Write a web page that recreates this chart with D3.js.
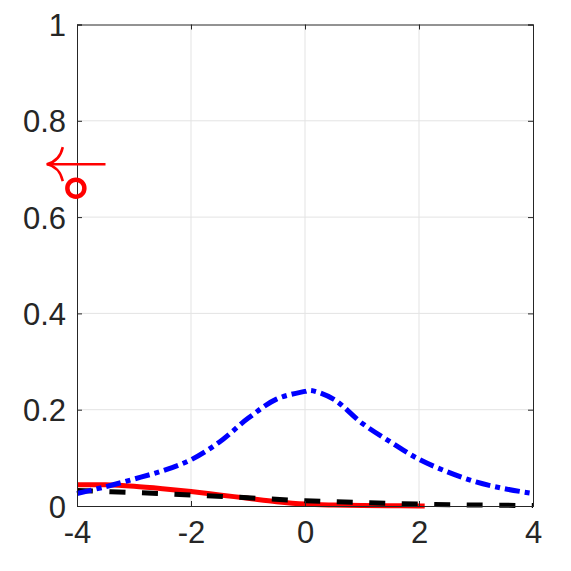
<!DOCTYPE html>
<meta charset="utf-8">
<script src="https://d3js.org/d3.v7.min.js"></script>
<style>
  body { margin: 0; background: #fff; }
  .tick text { font-family: "Liberation Sans", Arial, sans-serif; font-size: 31px; fill: #262626; }
</style>
<svg></svg>
<script>

// DATA

var xTicks = [-4, -2, 0, 2, 4];
var yTicks = [0, 0.2, 0.4, 0.6, 0.8, 1];

var blueX = [-4, -3.5, -3, -2.5, -2, -1.5, -1, -0.5, 0, 0.1, 0.5, 1, 1.5, 2, 2.5, 3, 3.5, 4];
var blueY = [0.026, 0.040, 0.056, 0.073, 0.096, 0.133, 0.182, 0.222, 0.238, 0.240, 0.222, 0.172, 0.133, 0.097, 0.071, 0.050, 0.036, 0.026];

var redX = [-4, -3.5, -3, -2.5, -2, -1.5, -1, -0.5, 0, 0.5, 1, 1.5, 2, 2.1];
var redY = [0.044, 0.044, 0.041, 0.036, 0.030, 0.023, 0.016, 0.009, 0.004, 0.002, 0.001, 0.0005, 0.0002, 0.0002];

var blackX = [-4, -3, -2, -1, 0, 1, 2, 3, 4];
var blackY = [0.032, 0.028, 0.023, 0.017, 0.011, 0.007, 0.004, 0.002, 0.001];

// annotation in data units
var arrowFrom = [-3.5, 0.71];
var arrowTo = [-4.53, 0.71];
var circlePt = [-4.02, 0.66];

// GLOBALS

var width = 571, height = 571;
var margin = {top: 24.5, left: 77, right: 38, bottom: 65};

var svg = d3.select("svg")
    .attr("width", width)
    .attr("height", height);

var x = d3.scaleLinear().domain([-4, 4]).range([margin.left, width - margin.right]);
var y = d3.scaleLinear().domain([0, 1]).range([height - margin.bottom, margin.top]);

// GRID

svg.append("g").selectAll("line")
  .data(xTicks.slice(1, -1))
  .enter().append("line")
    .attr("x1", d => x(d)).attr("x2", d => x(d))
    .attr("y1", y(0)).attr("y2", y(1))
    .attr("stroke", "#e3e3e3");

svg.append("g").selectAll("line")
  .data(yTicks.slice(1, -1))
  .enter().append("line")
    .attr("x1", x(-4)).attr("x2", x(4))
    .attr("y1", d => y(d)).attr("y2", d => y(d))
    .attr("stroke", "#e3e3e3");

// LINES

var line = d3.line().curve(d3.curveCatmullRom);

function series(xs, ys) { return xs.map((v, i) => [x(v), y(ys[i])]); }

svg.append("path")
  .attr("d", line(series(redX, redY)))
  .attr("fill", "none").attr("stroke", "#ff0000")
  .attr("stroke-width", 5);

svg.append("path")
  .attr("d", line(series(blackX, blackY)))
  .attr("fill", "none").attr("stroke", "#000")
  .attr("stroke-width", 5)
  .attr("stroke-dasharray", "16,16.5");

svg.append("path")
  .attr("d", line(series(blueX, blueY)))
  .attr("fill", "none").attr("stroke", "#0000ff")
  .attr("stroke-width", 5)
  .attr("stroke-dasharray", "15,5,5,5");

// AXES (MATLAB style box, inward ticks)

var axisColor = "#262626";

var gx = svg.append("g")
  .attr("transform", `translate(0,${y(0)})`)
  .call(d3.axisBottom(x).tickValues(xTicks).tickFormat(d => String(d)).tickSize(-5).tickPadding(15));
var gy = svg.append("g")
  .attr("transform", `translate(${x(-4)},0)`)
  .call(d3.axisLeft(y).tickValues(yTicks).tickFormat(d => String(d)).tickSize(-5).tickPadding(11));
svg.append("g")
  .attr("transform", `translate(0,${y(1)})`)
  .call(d3.axisTop(x).tickValues(xTicks).tickFormat("").tickSize(-5));
svg.append("g")
  .attr("transform", `translate(${x(4)},0)`)
  .call(d3.axisRight(y).tickValues(yTicks).tickFormat("").tickSize(-5));

svg.selectAll(".domain, .tick line").attr("stroke", axisColor);
gy.selectAll("text").attr("dy", "0.36em");

// ANNOTATION

var red = "#ff0000";
svg.append("line")
  .attr("x1", x(arrowFrom[0])).attr("y1", y(arrowFrom[1]))
  .attr("x2", x(arrowTo[0])).attr("y2", y(arrowTo[1]))
  .attr("stroke", red).attr("stroke-width", 2.5);

var tx = x(arrowTo[0]), ty = y(arrowTo[1]);
svg.append("path")
  .attr("d", `M${tx + 16},${ty - 17} Q${tx + 13},${ty - 3} ${tx},${ty} Q${tx + 13},${ty + 3} ${tx + 16},${ty + 17}`)
  .attr("fill", "none").attr("stroke", red).attr("stroke-width", 2.5);

svg.append("circle")
  .attr("cx", x(circlePt[0])).attr("cy", y(circlePt[1]))
  .attr("r", 8.5)
  .attr("fill", "none").attr("stroke", red).attr("stroke-width", 4.5);

</script>
